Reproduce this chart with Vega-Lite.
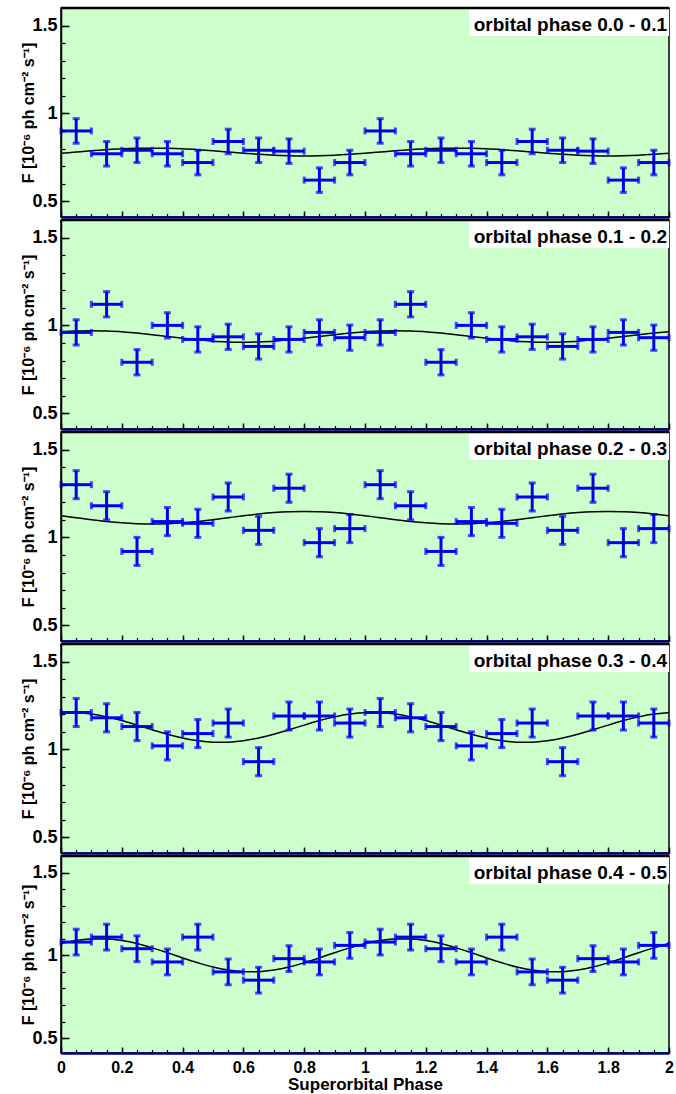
{
"$schema": "https://vega.github.io/schema/vega-lite/v6.json",
"background": "white",
"padding": {"left": 20, "top": 6, "right": 0, "bottom": 0},
"autosize": {"type": "pad"},
"spacing": 3,
"bounds": "flush",
"datasets": {
"one": [{}],
"pts": [
{"p":1,"x":0.05,"y":0.90,"ey":0.07,"ex":0.05},{"p":1,"x":0.15,"y":0.77,"ey":0.07,"ex":0.05},{"p":1,"x":0.25,"y":0.79,"ey":0.07,"ex":0.05},{"p":1,"x":0.35,"y":0.77,"ey":0.07,"ex":0.05},{"p":1,"x":0.45,"y":0.72,"ey":0.07,"ex":0.05},{"p":1,"x":0.55,"y":0.84,"ey":0.07,"ex":0.05},{"p":1,"x":0.65,"y":0.79,"ey":0.07,"ex":0.05},{"p":1,"x":0.75,"y":0.785,"ey":0.07,"ex":0.05},{"p":1,"x":0.85,"y":0.62,"ey":0.07,"ex":0.05},{"p":1,"x":0.95,"y":0.72,"ey":0.07,"ex":0.05},
{"p":1,"x":1.05,"y":0.90,"ey":0.07,"ex":0.05},{"p":1,"x":1.15,"y":0.77,"ey":0.07,"ex":0.05},{"p":1,"x":1.25,"y":0.79,"ey":0.07,"ex":0.05},{"p":1,"x":1.35,"y":0.77,"ey":0.07,"ex":0.05},{"p":1,"x":1.45,"y":0.72,"ey":0.07,"ex":0.05},{"p":1,"x":1.55,"y":0.84,"ey":0.07,"ex":0.05},{"p":1,"x":1.65,"y":0.79,"ey":0.07,"ex":0.05},{"p":1,"x":1.75,"y":0.785,"ey":0.07,"ex":0.05},{"p":1,"x":1.85,"y":0.62,"ey":0.07,"ex":0.05},{"p":1,"x":1.95,"y":0.72,"ey":0.07,"ex":0.05},
{"p":2,"x":0.05,"y":0.96,"ey":0.072,"ex":0.05},{"p":2,"x":0.15,"y":1.12,"ey":0.072,"ex":0.05},{"p":2,"x":0.25,"y":0.79,"ey":0.072,"ex":0.05},{"p":2,"x":0.35,"y":1.00,"ey":0.072,"ex":0.05},{"p":2,"x":0.45,"y":0.92,"ey":0.072,"ex":0.05},{"p":2,"x":0.55,"y":0.935,"ey":0.072,"ex":0.05},{"p":2,"x":0.65,"y":0.88,"ey":0.072,"ex":0.05},{"p":2,"x":0.75,"y":0.92,"ey":0.072,"ex":0.05},{"p":2,"x":0.85,"y":0.96,"ey":0.072,"ex":0.05},{"p":2,"x":0.95,"y":0.93,"ey":0.072,"ex":0.05},
{"p":2,"x":1.05,"y":0.96,"ey":0.072,"ex":0.05},{"p":2,"x":1.15,"y":1.12,"ey":0.072,"ex":0.05},{"p":2,"x":1.25,"y":0.79,"ey":0.072,"ex":0.05},{"p":2,"x":1.35,"y":1.00,"ey":0.072,"ex":0.05},{"p":2,"x":1.45,"y":0.92,"ey":0.072,"ex":0.05},{"p":2,"x":1.55,"y":0.935,"ey":0.072,"ex":0.05},{"p":2,"x":1.65,"y":0.88,"ey":0.072,"ex":0.05},{"p":2,"x":1.75,"y":0.92,"ey":0.072,"ex":0.05},{"p":2,"x":1.85,"y":0.96,"ey":0.072,"ex":0.05},{"p":2,"x":1.95,"y":0.93,"ey":0.072,"ex":0.05},
{"p":3,"x":0.05,"y":1.30,"ey":0.08,"ex":0.05},{"p":3,"x":0.15,"y":1.18,"ey":0.08,"ex":0.05},{"p":3,"x":0.25,"y":0.92,"ey":0.08,"ex":0.05},{"p":3,"x":0.35,"y":1.09,"ey":0.08,"ex":0.05},{"p":3,"x":0.45,"y":1.08,"ey":0.08,"ex":0.05},{"p":3,"x":0.55,"y":1.23,"ey":0.08,"ex":0.05},{"p":3,"x":0.65,"y":1.04,"ey":0.08,"ex":0.05},{"p":3,"x":0.75,"y":1.28,"ey":0.08,"ex":0.05},{"p":3,"x":0.85,"y":0.97,"ey":0.08,"ex":0.05},{"p":3,"x":0.95,"y":1.05,"ey":0.08,"ex":0.05},
{"p":3,"x":1.05,"y":1.30,"ey":0.08,"ex":0.05},{"p":3,"x":1.15,"y":1.18,"ey":0.08,"ex":0.05},{"p":3,"x":1.25,"y":0.92,"ey":0.08,"ex":0.05},{"p":3,"x":1.35,"y":1.09,"ey":0.08,"ex":0.05},{"p":3,"x":1.45,"y":1.08,"ey":0.08,"ex":0.05},{"p":3,"x":1.55,"y":1.23,"ey":0.08,"ex":0.05},{"p":3,"x":1.65,"y":1.04,"ey":0.08,"ex":0.05},{"p":3,"x":1.75,"y":1.28,"ey":0.08,"ex":0.05},{"p":3,"x":1.85,"y":0.97,"ey":0.08,"ex":0.05},{"p":3,"x":1.95,"y":1.05,"ey":0.08,"ex":0.05},
{"p":4,"x":0.05,"y":1.21,"ey":0.08,"ex":0.05},{"p":4,"x":0.15,"y":1.18,"ey":0.08,"ex":0.05},{"p":4,"x":0.25,"y":1.13,"ey":0.08,"ex":0.05},{"p":4,"x":0.35,"y":1.02,"ey":0.08,"ex":0.05},{"p":4,"x":0.45,"y":1.09,"ey":0.08,"ex":0.05},{"p":4,"x":0.55,"y":1.15,"ey":0.08,"ex":0.05},{"p":4,"x":0.65,"y":0.93,"ey":0.08,"ex":0.05},{"p":4,"x":0.75,"y":1.19,"ey":0.08,"ex":0.05},{"p":4,"x":0.85,"y":1.19,"ey":0.08,"ex":0.05},{"p":4,"x":0.95,"y":1.15,"ey":0.08,"ex":0.05},
{"p":4,"x":1.05,"y":1.21,"ey":0.08,"ex":0.05},{"p":4,"x":1.15,"y":1.18,"ey":0.08,"ex":0.05},{"p":4,"x":1.25,"y":1.13,"ey":0.08,"ex":0.05},{"p":4,"x":1.35,"y":1.02,"ey":0.08,"ex":0.05},{"p":4,"x":1.45,"y":1.09,"ey":0.08,"ex":0.05},{"p":4,"x":1.55,"y":1.15,"ey":0.08,"ex":0.05},{"p":4,"x":1.65,"y":0.93,"ey":0.08,"ex":0.05},{"p":4,"x":1.75,"y":1.19,"ey":0.08,"ex":0.05},{"p":4,"x":1.85,"y":1.19,"ey":0.08,"ex":0.05},{"p":4,"x":1.95,"y":1.15,"ey":0.08,"ex":0.05},
{"p":5,"x":0.05,"y":1.08,"ey":0.078,"ex":0.05},{"p":5,"x":0.15,"y":1.11,"ey":0.078,"ex":0.05},{"p":5,"x":0.25,"y":1.04,"ey":0.078,"ex":0.05},{"p":5,"x":0.35,"y":0.96,"ey":0.078,"ex":0.05},{"p":5,"x":0.45,"y":1.11,"ey":0.078,"ex":0.05},{"p":5,"x":0.55,"y":0.90,"ey":0.078,"ex":0.05},{"p":5,"x":0.65,"y":0.85,"ey":0.078,"ex":0.05},{"p":5,"x":0.75,"y":0.98,"ey":0.078,"ex":0.05},{"p":5,"x":0.85,"y":0.96,"ey":0.078,"ex":0.05},{"p":5,"x":0.95,"y":1.06,"ey":0.078,"ex":0.05},
{"p":5,"x":1.05,"y":1.08,"ey":0.078,"ex":0.05},{"p":5,"x":1.15,"y":1.11,"ey":0.078,"ex":0.05},{"p":5,"x":1.25,"y":1.04,"ey":0.078,"ex":0.05},{"p":5,"x":1.35,"y":0.96,"ey":0.078,"ex":0.05},{"p":5,"x":1.45,"y":1.11,"ey":0.078,"ex":0.05},{"p":5,"x":1.55,"y":0.90,"ey":0.078,"ex":0.05},{"p":5,"x":1.65,"y":0.85,"ey":0.078,"ex":0.05},{"p":5,"x":1.75,"y":0.98,"ey":0.078,"ex":0.05},{"p":5,"x":1.85,"y":0.96,"ey":0.078,"ex":0.05},{"p":5,"x":1.95,"y":1.06,"ey":0.078,"ex":0.05}
],
"curve": [
{"p":1,"x":0,"y":0.773},{"p":1,"x":0.05,"y":0.780},{"p":1,"x":0.1,"y":0.787},{"p":1,"x":0.15,"y":0.793},{"p":1,"x":0.2,"y":0.798},{"p":1,"x":0.25,"y":0.801},{"p":1,"x":0.3,"y":0.802},{"p":1,"x":0.35,"y":0.801},{"p":1,"x":0.4,"y":0.798},{"p":1,"x":0.45,"y":0.793},{"p":1,"x":0.5,"y":0.787},{"p":1,"x":0.55,"y":0.780},{"p":1,"x":0.6,"y":0.773},{"p":1,"x":0.65,"y":0.767},{"p":1,"x":0.7,"y":0.762},{"p":1,"x":0.75,"y":0.759},{"p":1,"x":0.8,"y":0.758},{"p":1,"x":0.85,"y":0.759},{"p":1,"x":0.9,"y":0.762},{"p":1,"x":0.95,"y":0.767},
{"p":1,"x":1,"y":0.773},{"p":1,"x":1.05,"y":0.780},{"p":1,"x":1.1,"y":0.787},{"p":1,"x":1.15,"y":0.793},{"p":1,"x":1.2,"y":0.798},{"p":1,"x":1.25,"y":0.801},{"p":1,"x":1.3,"y":0.802},{"p":1,"x":1.35,"y":0.801},{"p":1,"x":1.4,"y":0.798},{"p":1,"x":1.45,"y":0.793},{"p":1,"x":1.5,"y":0.787},{"p":1,"x":1.55,"y":0.780},{"p":1,"x":1.6,"y":0.773},{"p":1,"x":1.65,"y":0.767},{"p":1,"x":1.7,"y":0.762},{"p":1,"x":1.75,"y":0.759},{"p":1,"x":1.8,"y":0.758},{"p":1,"x":1.85,"y":0.759},{"p":1,"x":1.9,"y":0.762},{"p":1,"x":1.95,"y":0.767},{"p":1,"x":2,"y":0.773},
{"p":2,"x":0,"y":0.964},{"p":2,"x":0.05,"y":0.968},{"p":2,"x":0.1,"y":0.970},{"p":2,"x":0.15,"y":0.968},{"p":2,"x":0.2,"y":0.964},{"p":2,"x":0.25,"y":0.956},{"p":2,"x":0.3,"y":0.947},{"p":2,"x":0.35,"y":0.937},{"p":2,"x":0.4,"y":0.927},{"p":2,"x":0.45,"y":0.918},{"p":2,"x":0.5,"y":0.910},{"p":2,"x":0.55,"y":0.906},{"p":2,"x":0.6,"y":0.904},{"p":2,"x":0.65,"y":0.906},{"p":2,"x":0.7,"y":0.910},{"p":2,"x":0.75,"y":0.918},{"p":2,"x":0.8,"y":0.927},{"p":2,"x":0.85,"y":0.937},{"p":2,"x":0.9,"y":0.947},{"p":2,"x":0.95,"y":0.956},
{"p":2,"x":1,"y":0.964},{"p":2,"x":1.05,"y":0.968},{"p":2,"x":1.1,"y":0.970},{"p":2,"x":1.15,"y":0.968},{"p":2,"x":1.2,"y":0.964},{"p":2,"x":1.25,"y":0.956},{"p":2,"x":1.3,"y":0.947},{"p":2,"x":1.35,"y":0.937},{"p":2,"x":1.4,"y":0.927},{"p":2,"x":1.45,"y":0.918},{"p":2,"x":1.5,"y":0.910},{"p":2,"x":1.55,"y":0.906},{"p":2,"x":1.6,"y":0.904},{"p":2,"x":1.65,"y":0.906},{"p":2,"x":1.7,"y":0.910},{"p":2,"x":1.75,"y":0.918},{"p":2,"x":1.8,"y":0.927},{"p":2,"x":1.85,"y":0.937},{"p":2,"x":1.9,"y":0.947},{"p":2,"x":1.95,"y":0.956},{"p":2,"x":2,"y":0.964},
{"p":3,"x":0,"y":1.123},{"p":3,"x":0.05,"y":1.112},{"p":3,"x":0.1,"y":1.101},{"p":3,"x":0.15,"y":1.091},{"p":3,"x":0.2,"y":1.083},{"p":3,"x":0.25,"y":1.078},{"p":3,"x":0.3,"y":1.076},{"p":3,"x":0.35,"y":1.078},{"p":3,"x":0.4,"y":1.083},{"p":3,"x":0.45,"y":1.091},{"p":3,"x":0.5,"y":1.101},{"p":3,"x":0.55,"y":1.112},{"p":3,"x":0.6,"y":1.123},{"p":3,"x":0.65,"y":1.133},{"p":3,"x":0.7,"y":1.141},{"p":3,"x":0.75,"y":1.146},{"p":3,"x":0.8,"y":1.148},{"p":3,"x":0.85,"y":1.146},{"p":3,"x":0.9,"y":1.141},{"p":3,"x":0.95,"y":1.133},
{"p":3,"x":1,"y":1.123},{"p":3,"x":1.05,"y":1.112},{"p":3,"x":1.1,"y":1.101},{"p":3,"x":1.15,"y":1.091},{"p":3,"x":1.2,"y":1.083},{"p":3,"x":1.25,"y":1.078},{"p":3,"x":1.3,"y":1.076},{"p":3,"x":1.35,"y":1.078},{"p":3,"x":1.4,"y":1.083},{"p":3,"x":1.45,"y":1.091},{"p":3,"x":1.5,"y":1.101},{"p":3,"x":1.55,"y":1.112},{"p":3,"x":1.6,"y":1.123},{"p":3,"x":1.65,"y":1.133},{"p":3,"x":1.7,"y":1.141},{"p":3,"x":1.75,"y":1.146},{"p":3,"x":1.8,"y":1.148},{"p":3,"x":1.85,"y":1.146},{"p":3,"x":1.9,"y":1.141},{"p":3,"x":1.95,"y":1.133},{"p":3,"x":2,"y":1.123},
{"p":4,"x":0,"y":1.209},{"p":4,"x":0.05,"y":1.209},{"p":4,"x":0.1,"y":1.201},{"p":4,"x":0.15,"y":1.185},{"p":4,"x":0.2,"y":1.164},{"p":4,"x":0.25,"y":1.138},{"p":4,"x":0.3,"y":1.112},{"p":4,"x":0.35,"y":1.086},{"p":4,"x":0.4,"y":1.065},{"p":4,"x":0.45,"y":1.049},{"p":4,"x":0.5,"y":1.041},{"p":4,"x":0.55,"y":1.041},{"p":4,"x":0.6,"y":1.049},{"p":4,"x":0.65,"y":1.065},{"p":4,"x":0.7,"y":1.086},{"p":4,"x":0.75,"y":1.112},{"p":4,"x":0.8,"y":1.138},{"p":4,"x":0.85,"y":1.164},{"p":4,"x":0.9,"y":1.185},{"p":4,"x":0.95,"y":1.201},
{"p":4,"x":1,"y":1.209},{"p":4,"x":1.05,"y":1.209},{"p":4,"x":1.1,"y":1.201},{"p":4,"x":1.15,"y":1.185},{"p":4,"x":1.2,"y":1.164},{"p":4,"x":1.25,"y":1.138},{"p":4,"x":1.3,"y":1.112},{"p":4,"x":1.35,"y":1.086},{"p":4,"x":1.4,"y":1.065},{"p":4,"x":1.45,"y":1.049},{"p":4,"x":1.5,"y":1.041},{"p":4,"x":1.55,"y":1.041},{"p":4,"x":1.6,"y":1.049},{"p":4,"x":1.65,"y":1.065},{"p":4,"x":1.7,"y":1.086},{"p":4,"x":1.75,"y":1.112},{"p":4,"x":1.8,"y":1.138},{"p":4,"x":1.85,"y":1.164},{"p":4,"x":1.9,"y":1.185},{"p":4,"x":1.95,"y":1.201},{"p":4,"x":2,"y":1.209},
{"p":5,"x":0,"y":1.071},{"p":5,"x":0.05,"y":1.089},{"p":5,"x":0.1,"y":1.099},{"p":5,"x":0.15,"y":1.099},{"p":5,"x":0.2,"y":1.089},{"p":5,"x":0.25,"y":1.071},{"p":5,"x":0.3,"y":1.045},{"p":5,"x":0.35,"y":1.016},{"p":5,"x":0.4,"y":0.984},{"p":5,"x":0.45,"y":0.955},{"p":5,"x":0.5,"y":0.929},{"p":5,"x":0.55,"y":0.911},{"p":5,"x":0.6,"y":0.901},{"p":5,"x":0.65,"y":0.901},{"p":5,"x":0.7,"y":0.911},{"p":5,"x":0.75,"y":0.929},{"p":5,"x":0.8,"y":0.955},{"p":5,"x":0.85,"y":0.984},{"p":5,"x":0.9,"y":1.016},{"p":5,"x":0.95,"y":1.045},
{"p":5,"x":1,"y":1.071},{"p":5,"x":1.05,"y":1.089},{"p":5,"x":1.1,"y":1.099},{"p":5,"x":1.15,"y":1.099},{"p":5,"x":1.2,"y":1.089},{"p":5,"x":1.25,"y":1.071},{"p":5,"x":1.3,"y":1.045},{"p":5,"x":1.35,"y":1.016},{"p":5,"x":1.4,"y":0.984},{"p":5,"x":1.45,"y":0.955},{"p":5,"x":1.5,"y":0.929},{"p":5,"x":1.55,"y":0.911},{"p":5,"x":1.6,"y":0.901},{"p":5,"x":1.65,"y":0.901},{"p":5,"x":1.7,"y":0.911},{"p":5,"x":1.75,"y":0.929},{"p":5,"x":1.8,"y":0.955},{"p":5,"x":1.85,"y":0.984},{"p":5,"x":1.9,"y":1.016},{"p":5,"x":1.95,"y":1.045},{"p":5,"x":2,"y":1.071}
]
},
"vconcat": [
{
"width": 608, "height": 209,
"resolve": {"axis": {"x": "independent", "y": "independent"}},
"layer": [
{"data": {"name": "one"}, "mark": {"type": "rect", "color": "white"},
 "encoding": {"x": {"datum": 1.342, "type": "quantitative", "scale": {"domain": [0, 2], "nice": false}, "axis": null}, "x2": {"datum": 2},
  "y": {"datum": 1.6, "type": "quantitative", "scale": {"domain": [0.41, 1.6], "nice": false, "zero": false}, "axis": null}, "y2": {"datum": 1.44}}},
{"data": {"name": "curve"}, "transform": [{"filter": "datum.p == 1"}],
 "mark": {"type": "line", "color": "black", "strokeWidth": 1.5, "interpolate": "monotone"},
 "encoding": {"x": {"field": "x", "type": "quantitative", "scale": {"domain": [0, 2], "nice": false},
   "axis": {"orient": "bottom", "values": [0,0.05,0.1,0.15,0.2,0.25,0.3,0.35,0.4,0.45,0.5,0.55,0.6,0.65,0.7,0.75,0.8,0.85,0.9,0.95,1,1.05,1.1,1.15,1.2,1.25,1.3,1.35,1.4,1.45,1.5,1.55,1.6,1.65,1.7,1.75,1.8,1.85,1.9,1.95,2], "tickSize": -3.5, "tickWidth": 1.2, "labels": false, "domain": false, "title": null, "zindex": 1}},
  "y": {"field": "y", "type": "quantitative", "scale": {"domain": [0.41, 1.6], "nice": false, "zero": false},
   "axis": {"orient": "left", "values": [0.5,0.6,0.7,0.8,0.9,1,1.1,1.2,1.3,1.4,1.5,1.6], "tickSize": -4, "tickWidth": 1.2, "labels": false, "domain": false, "title": null, "zindex": 1}}}},
{"data": {"name": "pts"}, "transform": [{"filter": "datum.p == 1"}],
 "mark": {"type": "errorbar", "color": "#0000ff", "thickness": 3, "size": 7, "ticks": true},
 "encoding": {"x": {"field": "x", "type": "quantitative", "scale": {"domain": [0, 2], "nice": false}, "axis": null},
  "y": {"field": "y", "type": "quantitative", "scale": {"domain": [0.41, 1.6], "nice": false, "zero": false}, "axis": null}, "yError": {"field": "ey"}}},
{"data": {"name": "pts"}, "transform": [{"filter": "datum.p == 1"}],
 "mark": {"type": "errorbar", "color": "#0000ff", "thickness": 3, "size": 7, "ticks": true},
 "encoding": {"x": {"field": "x", "type": "quantitative", "scale": {"domain": [0, 2], "nice": false}, "axis": null}, "xError": {"field": "ex"},
  "y": {"field": "y", "type": "quantitative", "scale": {"domain": [0.41, 1.6], "nice": false, "zero": false}, "axis": null}}},
{"data": {"name": "pts"}, "transform": [{"filter": "datum.p == 1"}],
 "mark": {"type": "point", "filled": true, "color": "black", "size": 5, "opacity": 1},
 "encoding": {"x": {"field": "x", "type": "quantitative", "scale": {"domain": [0, 2], "nice": false},
   "axis": {"orient": "bottom", "values": [0,0.2,0.4,0.6,0.8,1,1.2,1.4,1.6,1.8,2], "tickSize": -6, "tickWidth": 1.5, "labels": false, "title": null, "domainColor": "#000080", "domainWidth": 2.5, "zindex": 1}},
  "y": {"field": "y", "type": "quantitative", "scale": {"domain": [0.41, 1.6], "nice": false, "zero": false},
   "axis": {"orient": "left", "values": [0.5,1,1.5], "format": "~g", "tickSize": -8, "tickWidth": 1.5, "labelPadding": 12, "title": "F [10⁻⁶ ph cm⁻² s⁻¹]", "titleFontSize": 16, "titlePadding": -5, "domainWidth": 1.5, "zindex": 1}}}},
{"data": {"name": "one"}, "mark": {"type": "rule", "color": "black", "strokeWidth": 2.5},
 "encoding": {"y": {"datum": 1.6, "type": "quantitative", "scale": {"domain": [0.41, 1.6], "nice": false, "zero": false}, "axis": null}}},
{"data": {"name": "one"}, "mark": {"type": "text", "align": "right", "baseline": "alphabetic", "dx": -2, "dy": 23, "font": "Liberation Sans", "fontWeight": "bold", "fontSize": 19, "color": "black"},
 "encoding": {"x": {"datum": 2, "type": "quantitative", "scale": {"domain": [0, 2], "nice": false}, "axis": null},
  "y": {"datum": 1.6, "type": "quantitative", "scale": {"domain": [0.41, 1.6], "nice": false, "zero": false}, "axis": null},
  "text": {"value": "orbital phase 0.0 - 0.1"}}}
]
},
{
"width": 608, "height": 209,
"resolve": {"axis": {"x": "independent", "y": "independent"}},
"layer": [
{"data": {"name": "one"}, "mark": {"type": "rect", "color": "white"},
 "encoding": {"x": {"datum": 1.342, "type": "quantitative", "scale": {"domain": [0, 2], "nice": false}, "axis": null}, "x2": {"datum": 2},
  "y": {"datum": 1.6, "type": "quantitative", "scale": {"domain": [0.41, 1.6], "nice": false, "zero": false}, "axis": null}, "y2": {"datum": 1.44}}},
{"data": {"name": "curve"}, "transform": [{"filter": "datum.p == 2"}],
 "mark": {"type": "line", "color": "black", "strokeWidth": 1.5, "interpolate": "monotone"},
 "encoding": {"x": {"field": "x", "type": "quantitative", "scale": {"domain": [0, 2], "nice": false},
   "axis": {"orient": "bottom", "values": [0,0.05,0.1,0.15,0.2,0.25,0.3,0.35,0.4,0.45,0.5,0.55,0.6,0.65,0.7,0.75,0.8,0.85,0.9,0.95,1,1.05,1.1,1.15,1.2,1.25,1.3,1.35,1.4,1.45,1.5,1.55,1.6,1.65,1.7,1.75,1.8,1.85,1.9,1.95,2], "tickSize": -3.5, "tickWidth": 1.2, "labels": false, "domain": false, "title": null, "zindex": 1}},
  "y": {"field": "y", "type": "quantitative", "scale": {"domain": [0.41, 1.6], "nice": false, "zero": false},
   "axis": {"orient": "left", "values": [0.5,0.6,0.7,0.8,0.9,1,1.1,1.2,1.3,1.4,1.5,1.6], "tickSize": -4, "tickWidth": 1.2, "labels": false, "domain": false, "title": null, "zindex": 1}}}},
{"data": {"name": "pts"}, "transform": [{"filter": "datum.p == 2"}],
 "mark": {"type": "errorbar", "color": "#0000ff", "thickness": 3, "size": 7, "ticks": true},
 "encoding": {"x": {"field": "x", "type": "quantitative", "scale": {"domain": [0, 2], "nice": false}, "axis": null},
  "y": {"field": "y", "type": "quantitative", "scale": {"domain": [0.41, 1.6], "nice": false, "zero": false}, "axis": null}, "yError": {"field": "ey"}}},
{"data": {"name": "pts"}, "transform": [{"filter": "datum.p == 2"}],
 "mark": {"type": "errorbar", "color": "#0000ff", "thickness": 3, "size": 7, "ticks": true},
 "encoding": {"x": {"field": "x", "type": "quantitative", "scale": {"domain": [0, 2], "nice": false}, "axis": null}, "xError": {"field": "ex"},
  "y": {"field": "y", "type": "quantitative", "scale": {"domain": [0.41, 1.6], "nice": false, "zero": false}, "axis": null}}},
{"data": {"name": "pts"}, "transform": [{"filter": "datum.p == 2"}],
 "mark": {"type": "point", "filled": true, "color": "black", "size": 5, "opacity": 1},
 "encoding": {"x": {"field": "x", "type": "quantitative", "scale": {"domain": [0, 2], "nice": false},
   "axis": {"orient": "bottom", "values": [0,0.2,0.4,0.6,0.8,1,1.2,1.4,1.6,1.8,2], "tickSize": -6, "tickWidth": 1.5, "labels": false, "title": null, "domainColor": "#000080", "domainWidth": 2.5, "zindex": 1}},
  "y": {"field": "y", "type": "quantitative", "scale": {"domain": [0.41, 1.6], "nice": false, "zero": false},
   "axis": {"orient": "left", "values": [0.5,1,1.5], "format": "~g", "tickSize": -8, "tickWidth": 1.5, "labelPadding": 12, "title": "F [10⁻⁶ ph cm⁻² s⁻¹]", "titleFontSize": 16, "titlePadding": -5, "domainWidth": 1.5, "zindex": 1}}}},
{"data": {"name": "one"}, "mark": {"type": "rule", "color": "black", "strokeWidth": 2.5},
 "encoding": {"y": {"datum": 1.6, "type": "quantitative", "scale": {"domain": [0.41, 1.6], "nice": false, "zero": false}, "axis": null}}},
{"data": {"name": "one"}, "mark": {"type": "text", "align": "right", "baseline": "alphabetic", "dx": -2, "dy": 23, "font": "Liberation Sans", "fontWeight": "bold", "fontSize": 19, "color": "black"},
 "encoding": {"x": {"datum": 2, "type": "quantitative", "scale": {"domain": [0, 2], "nice": false}, "axis": null},
  "y": {"datum": 1.6, "type": "quantitative", "scale": {"domain": [0.41, 1.6], "nice": false, "zero": false}, "axis": null},
  "text": {"value": "orbital phase 0.1 - 0.2"}}}
]
},
{
"width": 608, "height": 209,
"resolve": {"axis": {"x": "independent", "y": "independent"}},
"layer": [
{"data": {"name": "one"}, "mark": {"type": "rect", "color": "white"},
 "encoding": {"x": {"datum": 1.342, "type": "quantitative", "scale": {"domain": [0, 2], "nice": false}, "axis": null}, "x2": {"datum": 2},
  "y": {"datum": 1.6, "type": "quantitative", "scale": {"domain": [0.41, 1.6], "nice": false, "zero": false}, "axis": null}, "y2": {"datum": 1.44}}},
{"data": {"name": "curve"}, "transform": [{"filter": "datum.p == 3"}],
 "mark": {"type": "line", "color": "black", "strokeWidth": 1.5, "interpolate": "monotone"},
 "encoding": {"x": {"field": "x", "type": "quantitative", "scale": {"domain": [0, 2], "nice": false},
   "axis": {"orient": "bottom", "values": [0,0.05,0.1,0.15,0.2,0.25,0.3,0.35,0.4,0.45,0.5,0.55,0.6,0.65,0.7,0.75,0.8,0.85,0.9,0.95,1,1.05,1.1,1.15,1.2,1.25,1.3,1.35,1.4,1.45,1.5,1.55,1.6,1.65,1.7,1.75,1.8,1.85,1.9,1.95,2], "tickSize": -3.5, "tickWidth": 1.2, "labels": false, "domain": false, "title": null, "zindex": 1}},
  "y": {"field": "y", "type": "quantitative", "scale": {"domain": [0.41, 1.6], "nice": false, "zero": false},
   "axis": {"orient": "left", "values": [0.5,0.6,0.7,0.8,0.9,1,1.1,1.2,1.3,1.4,1.5,1.6], "tickSize": -4, "tickWidth": 1.2, "labels": false, "domain": false, "title": null, "zindex": 1}}}},
{"data": {"name": "pts"}, "transform": [{"filter": "datum.p == 3"}],
 "mark": {"type": "errorbar", "color": "#0000ff", "thickness": 3, "size": 7, "ticks": true},
 "encoding": {"x": {"field": "x", "type": "quantitative", "scale": {"domain": [0, 2], "nice": false}, "axis": null},
  "y": {"field": "y", "type": "quantitative", "scale": {"domain": [0.41, 1.6], "nice": false, "zero": false}, "axis": null}, "yError": {"field": "ey"}}},
{"data": {"name": "pts"}, "transform": [{"filter": "datum.p == 3"}],
 "mark": {"type": "errorbar", "color": "#0000ff", "thickness": 3, "size": 7, "ticks": true},
 "encoding": {"x": {"field": "x", "type": "quantitative", "scale": {"domain": [0, 2], "nice": false}, "axis": null}, "xError": {"field": "ex"},
  "y": {"field": "y", "type": "quantitative", "scale": {"domain": [0.41, 1.6], "nice": false, "zero": false}, "axis": null}}},
{"data": {"name": "pts"}, "transform": [{"filter": "datum.p == 3"}],
 "mark": {"type": "point", "filled": true, "color": "black", "size": 5, "opacity": 1},
 "encoding": {"x": {"field": "x", "type": "quantitative", "scale": {"domain": [0, 2], "nice": false},
   "axis": {"orient": "bottom", "values": [0,0.2,0.4,0.6,0.8,1,1.2,1.4,1.6,1.8,2], "tickSize": -6, "tickWidth": 1.5, "labels": false, "title": null, "domainColor": "#000080", "domainWidth": 2.5, "zindex": 1}},
  "y": {"field": "y", "type": "quantitative", "scale": {"domain": [0.41, 1.6], "nice": false, "zero": false},
   "axis": {"orient": "left", "values": [0.5,1,1.5], "format": "~g", "tickSize": -8, "tickWidth": 1.5, "labelPadding": 12, "title": "F [10⁻⁶ ph cm⁻² s⁻¹]", "titleFontSize": 16, "titlePadding": -5, "domainWidth": 1.5, "zindex": 1}}}},
{"data": {"name": "one"}, "mark": {"type": "rule", "color": "black", "strokeWidth": 2.5},
 "encoding": {"y": {"datum": 1.6, "type": "quantitative", "scale": {"domain": [0.41, 1.6], "nice": false, "zero": false}, "axis": null}}},
{"data": {"name": "one"}, "mark": {"type": "text", "align": "right", "baseline": "alphabetic", "dx": -2, "dy": 23, "font": "Liberation Sans", "fontWeight": "bold", "fontSize": 19, "color": "black"},
 "encoding": {"x": {"datum": 2, "type": "quantitative", "scale": {"domain": [0, 2], "nice": false}, "axis": null},
  "y": {"datum": 1.6, "type": "quantitative", "scale": {"domain": [0.41, 1.6], "nice": false, "zero": false}, "axis": null},
  "text": {"value": "orbital phase 0.2 - 0.3"}}}
]
},
{
"width": 608, "height": 209,
"resolve": {"axis": {"x": "independent", "y": "independent"}},
"layer": [
{"data": {"name": "one"}, "mark": {"type": "rect", "color": "white"},
 "encoding": {"x": {"datum": 1.342, "type": "quantitative", "scale": {"domain": [0, 2], "nice": false}, "axis": null}, "x2": {"datum": 2},
  "y": {"datum": 1.6, "type": "quantitative", "scale": {"domain": [0.41, 1.6], "nice": false, "zero": false}, "axis": null}, "y2": {"datum": 1.44}}},
{"data": {"name": "curve"}, "transform": [{"filter": "datum.p == 4"}],
 "mark": {"type": "line", "color": "black", "strokeWidth": 1.5, "interpolate": "monotone"},
 "encoding": {"x": {"field": "x", "type": "quantitative", "scale": {"domain": [0, 2], "nice": false},
   "axis": {"orient": "bottom", "values": [0,0.05,0.1,0.15,0.2,0.25,0.3,0.35,0.4,0.45,0.5,0.55,0.6,0.65,0.7,0.75,0.8,0.85,0.9,0.95,1,1.05,1.1,1.15,1.2,1.25,1.3,1.35,1.4,1.45,1.5,1.55,1.6,1.65,1.7,1.75,1.8,1.85,1.9,1.95,2], "tickSize": -3.5, "tickWidth": 1.2, "labels": false, "domain": false, "title": null, "zindex": 1}},
  "y": {"field": "y", "type": "quantitative", "scale": {"domain": [0.41, 1.6], "nice": false, "zero": false},
   "axis": {"orient": "left", "values": [0.5,0.6,0.7,0.8,0.9,1,1.1,1.2,1.3,1.4,1.5,1.6], "tickSize": -4, "tickWidth": 1.2, "labels": false, "domain": false, "title": null, "zindex": 1}}}},
{"data": {"name": "pts"}, "transform": [{"filter": "datum.p == 4"}],
 "mark": {"type": "errorbar", "color": "#0000ff", "thickness": 3, "size": 7, "ticks": true},
 "encoding": {"x": {"field": "x", "type": "quantitative", "scale": {"domain": [0, 2], "nice": false}, "axis": null},
  "y": {"field": "y", "type": "quantitative", "scale": {"domain": [0.41, 1.6], "nice": false, "zero": false}, "axis": null}, "yError": {"field": "ey"}}},
{"data": {"name": "pts"}, "transform": [{"filter": "datum.p == 4"}],
 "mark": {"type": "errorbar", "color": "#0000ff", "thickness": 3, "size": 7, "ticks": true},
 "encoding": {"x": {"field": "x", "type": "quantitative", "scale": {"domain": [0, 2], "nice": false}, "axis": null}, "xError": {"field": "ex"},
  "y": {"field": "y", "type": "quantitative", "scale": {"domain": [0.41, 1.6], "nice": false, "zero": false}, "axis": null}}},
{"data": {"name": "pts"}, "transform": [{"filter": "datum.p == 4"}],
 "mark": {"type": "point", "filled": true, "color": "black", "size": 5, "opacity": 1},
 "encoding": {"x": {"field": "x", "type": "quantitative", "scale": {"domain": [0, 2], "nice": false},
   "axis": {"orient": "bottom", "values": [0,0.2,0.4,0.6,0.8,1,1.2,1.4,1.6,1.8,2], "tickSize": -6, "tickWidth": 1.5, "labels": false, "title": null, "domainColor": "#000080", "domainWidth": 2.5, "zindex": 1}},
  "y": {"field": "y", "type": "quantitative", "scale": {"domain": [0.41, 1.6], "nice": false, "zero": false},
   "axis": {"orient": "left", "values": [0.5,1,1.5], "format": "~g", "tickSize": -8, "tickWidth": 1.5, "labelPadding": 12, "title": "F [10⁻⁶ ph cm⁻² s⁻¹]", "titleFontSize": 16, "titlePadding": -5, "domainWidth": 1.5, "zindex": 1}}}},
{"data": {"name": "one"}, "mark": {"type": "rule", "color": "black", "strokeWidth": 2.5},
 "encoding": {"y": {"datum": 1.6, "type": "quantitative", "scale": {"domain": [0.41, 1.6], "nice": false, "zero": false}, "axis": null}}},
{"data": {"name": "one"}, "mark": {"type": "text", "align": "right", "baseline": "alphabetic", "dx": -2, "dy": 23, "font": "Liberation Sans", "fontWeight": "bold", "fontSize": 19, "color": "black"},
 "encoding": {"x": {"datum": 2, "type": "quantitative", "scale": {"domain": [0, 2], "nice": false}, "axis": null},
  "y": {"datum": 1.6, "type": "quantitative", "scale": {"domain": [0.41, 1.6], "nice": false, "zero": false}, "axis": null},
  "text": {"value": "orbital phase 0.3 - 0.4"}}}
]
},
{
"width": 608, "height": 197,
"resolve": {"axis": {"x": "independent", "y": "independent"}},
"layer": [
{"data": {"name": "one"}, "mark": {"type": "rect", "color": "white"},
 "encoding": {"x": {"datum": 1.342, "type": "quantitative", "scale": {"domain": [0, 2], "nice": false}, "axis": null}, "x2": {"datum": 2},
  "y": {"datum": 1.6, "type": "quantitative", "scale": {"domain": [0.41, 1.6], "nice": false, "zero": false}, "axis": null}, "y2": {"datum": 1.43}}},
{"data": {"name": "curve"}, "transform": [{"filter": "datum.p == 5"}],
 "mark": {"type": "line", "color": "black", "strokeWidth": 1.5, "interpolate": "monotone"},
 "encoding": {"x": {"field": "x", "type": "quantitative", "scale": {"domain": [0, 2], "nice": false},
   "axis": {"orient": "bottom", "values": [0,0.05,0.1,0.15,0.2,0.25,0.3,0.35,0.4,0.45,0.5,0.55,0.6,0.65,0.7,0.75,0.8,0.85,0.9,0.95,1,1.05,1.1,1.15,1.2,1.25,1.3,1.35,1.4,1.45,1.5,1.55,1.6,1.65,1.7,1.75,1.8,1.85,1.9,1.95,2], "tickSize": -3.5, "tickWidth": 1.2, "labels": false, "domain": false, "title": null, "zindex": 1}},
  "y": {"field": "y", "type": "quantitative", "scale": {"domain": [0.41, 1.6], "nice": false, "zero": false},
   "axis": {"orient": "left", "values": [0.5,0.6,0.7,0.8,0.9,1,1.1,1.2,1.3,1.4,1.5,1.6], "tickSize": -4, "tickWidth": 1.2, "labels": false, "domain": false, "title": null, "zindex": 1}}}},
{"data": {"name": "pts"}, "transform": [{"filter": "datum.p == 5"}],
 "mark": {"type": "errorbar", "color": "#0000ff", "thickness": 3, "size": 7, "ticks": true},
 "encoding": {"x": {"field": "x", "type": "quantitative", "scale": {"domain": [0, 2], "nice": false}, "axis": null},
  "y": {"field": "y", "type": "quantitative", "scale": {"domain": [0.41, 1.6], "nice": false, "zero": false}, "axis": null}, "yError": {"field": "ey"}}},
{"data": {"name": "pts"}, "transform": [{"filter": "datum.p == 5"}],
 "mark": {"type": "errorbar", "color": "#0000ff", "thickness": 3, "size": 7, "ticks": true},
 "encoding": {"x": {"field": "x", "type": "quantitative", "scale": {"domain": [0, 2], "nice": false}, "axis": null}, "xError": {"field": "ex"},
  "y": {"field": "y", "type": "quantitative", "scale": {"domain": [0.41, 1.6], "nice": false, "zero": false}, "axis": null}}},
{"data": {"name": "pts"}, "transform": [{"filter": "datum.p == 5"}],
 "mark": {"type": "point", "filled": true, "color": "black", "size": 5, "opacity": 1},
 "encoding": {"x": {"field": "x", "type": "quantitative", "scale": {"domain": [0, 2], "nice": false},
   "axis": {"orient": "bottom", "values": [0,0.2,0.4,0.6,0.8,1,1.2,1.4,1.6,1.8,2], "format": "~g", "tickSize": -6, "tickWidth": 1.5, "labelFontSize": 16, "labelPadding": 12, "labelFlush": false, "title": "Superorbital Phase", "titleFontSize": 17, "titlePadding": 1, "domainColor": "#000080", "domainWidth": 2.5, "zindex": 1}},
  "y": {"field": "y", "type": "quantitative", "scale": {"domain": [0.41, 1.6], "nice": false, "zero": false},
   "axis": {"orient": "left", "values": [0.5,1,1.5], "format": "~g", "tickSize": -8, "tickWidth": 1.5, "labelPadding": 12, "title": "F [10⁻⁶ ph cm⁻² s⁻¹]", "titleFontSize": 16, "titlePadding": -5, "domainWidth": 1.5, "zindex": 1}}}},
{"data": {"name": "one"}, "mark": {"type": "rule", "color": "black", "strokeWidth": 2.5},
 "encoding": {"y": {"datum": 1.6, "type": "quantitative", "scale": {"domain": [0.41, 1.6], "nice": false, "zero": false}, "axis": null}}},
{"data": {"name": "one"}, "mark": {"type": "text", "align": "right", "baseline": "alphabetic", "dx": -2, "dy": 23, "font": "Liberation Sans", "fontWeight": "bold", "fontSize": 19, "color": "black"},
 "encoding": {"x": {"datum": 2, "type": "quantitative", "scale": {"domain": [0, 2], "nice": false}, "axis": null},
  "y": {"datum": 1.6, "type": "quantitative", "scale": {"domain": [0.41, 1.6], "nice": false, "zero": false}, "axis": null},
  "text": {"value": "orbital phase 0.4 - 0.5"}}}
]
}
],
"config": {
 "view": {"fill": "#ccffcc", "stroke": "black", "strokeWidth": 1.5},
 "axis": {"grid": false, "labelFont": "Liberation Sans", "labelFontWeight": "bold", "labelFontSize": 18, "labelColor": "black", "titleFont": "Liberation Sans", "titleFontWeight": "bold", "titleColor": "black", "tickColor": "black", "domainColor": "black"}
}
}
